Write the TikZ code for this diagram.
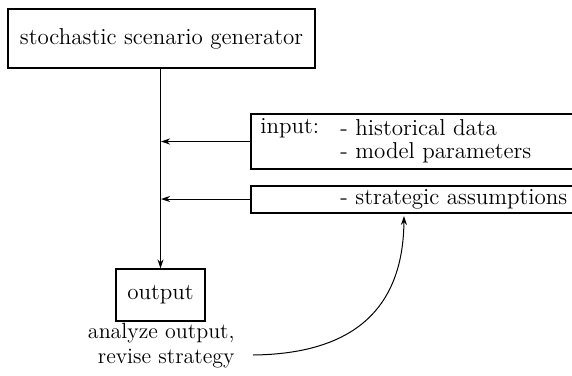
\documentclass[tikz,border=0pt]{standalone}
\usetikzlibrary{arrows.meta}
\begin{document}
\begin{tikzpicture}[x=0.5pt,y=-0.5pt,
  every node/.style={font=\fontsize{11.5}{12.5}\selectfont, inner sep=0pt},
  box/.style={draw, line width=0.55pt},
  arr/.style={-{Stealth[length=4.5pt,width=3pt]}, line width=0.5pt},
  lin/.style={line width=0.55pt}]
\useasboundingbox (0,0) rectangle (572,375);
\node[box, minimum width=153.5pt, minimum height=29.5pt] (gen) at (161.5,38.5) {stochastic scenario generator};
\node[box, minimum width=44.5pt, minimum height=26pt] (out) at (160.5,295) {output};
\draw[arr] (gen.south -| out.north) -- (out.north);
% input box
\draw[lin] (572,114) -| (251,169) -- (572,169);
\coordinate (inL) at (251,141.5);
\coordinate (v1) at (161,141.5);
\node[anchor=west] (inp) at (260,128) {input:};
\node[anchor=west] (hist) at (340,128) {- historical data};
\node[anchor=west] (mod) at (340,153) {- model parameters};
% strategic box
\draw[lin] (572,186) -| (251,213) -- (572,213);
\coordinate (sL) at (251,199);
\coordinate (v2) at (161,199);
\coordinate (sB) at (404,216);
\node[anchor=west] (strat) at (340,199.5) {- strategic assumptions};
\draw[arr] (inL) -- (v1);
\draw[arr] (sL) -- (v2);
% analysis
\node[align=right, anchor=east, font=\fontsize{11}{12.5}\selectfont] (ana) at (235,346) {analyze output,\\revise strategy};
\coordinate (cs) at (253,355);
\draw[arr] (cs) .. controls (340,354) and (403,320) .. (sB);
\end{tikzpicture}
\end{document}
